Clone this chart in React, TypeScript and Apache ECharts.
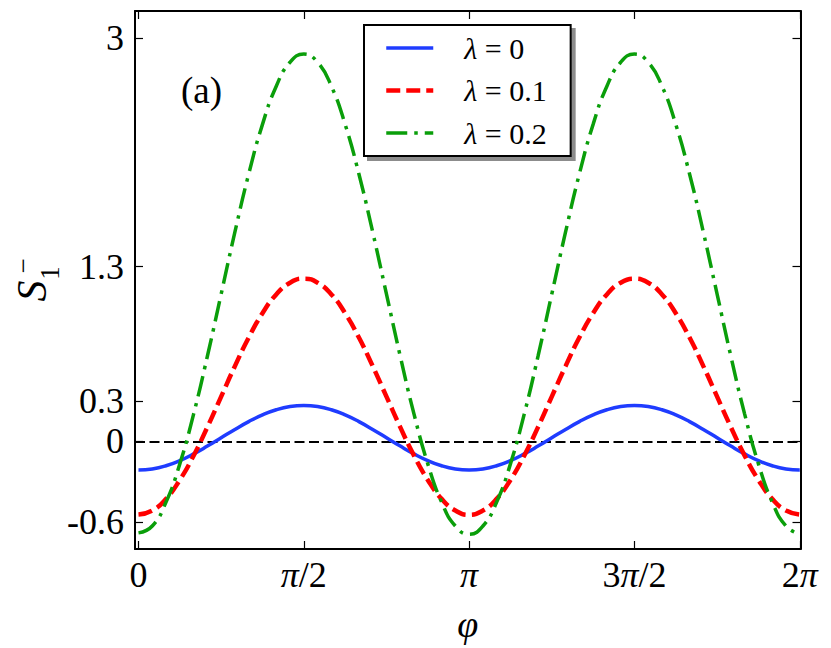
import React, { useEffect, useRef } from "react";
import * as echarts from "echarts";

// phase angle φ in degrees (0 … 2π)
const phiDeg = [
  0, 7.5, 15, 22.5, 30, 37.5, 45, 52.5, 60, 67.5, 75, 82.5, 90, 97.5, 105, 112.5,
  120, 127.5, 135, 142.5, 150, 157.5, 165, 172.5, 180, 187.5, 195, 202.5, 210,
  217.5, 225, 232.5, 240, 247.5, 255, 262.5, 270, 277.5, 285, 292.5, 300, 307.5,
  315, 322.5, 330, 337.5, 345, 352.5, 360,
];

// λ = 0
const lambda0 = [
  -0.213, -0.205, -0.181, -0.143, -0.093, -0.035, 0.027, 0.089, 0.147, 0.197, 0.235, 0.259, 0.267,
  0.259, 0.235, 0.197, 0.147, 0.089, 0.027, -0.035, -0.093, -0.143, -0.181, -0.205, -0.213,
  -0.205, -0.181, -0.143, -0.093, -0.035, 0.027, 0.089, 0.147, 0.197, 0.235, 0.259, 0.267,
  0.259, 0.235, 0.197, 0.147, 0.089, 0.027, -0.035, -0.093, -0.143, -0.181, -0.205, -0.213,
];

// λ = 0.1
const lambda01 = [
  -0.544, -0.514, -0.427, -0.287, -0.106, 0.106, 0.333, 0.56, 0.772, 0.953, 1.093, 1.18, 1.21,
  1.18, 1.093, 0.953, 0.772, 0.56, 0.333, 0.106, -0.106, -0.287, -0.427, -0.514, -0.546,
  -0.514, -0.427, -0.287, -0.106, 0.106, 0.333, 0.56, 0.772, 0.953, 1.093, 1.18, 1.21,
  1.18, 1.093, 0.953, 0.772, 0.56, 0.333, 0.106, -0.106, -0.287, -0.427, -0.514, -0.544,
];

// λ = 0.2
const lambda02 = [
  -0.68, -0.629, -0.451, -0.167, 0.203, 0.633, 1.095, 1.557, 1.988, 2.357, 2.641, 2.819, 2.88,
  2.819, 2.641, 2.357, 1.988, 1.557, 1.095, 0.633, 0.203, -0.167, -0.451, -0.629, -0.69,
  -0.629, -0.451, -0.167, 0.203, 0.633, 1.095, 1.557, 1.988, 2.357, 2.641, 2.819, 2.88,
  2.819, 2.641, 2.357, 1.988, 1.557, 1.095, 0.633, 0.203, -0.167, -0.451, -0.629, -0.69,
];

const seriesNames = ["λ = 0", "λ = 0.1", "λ = 0.2"];
const seriesColors = ["#1f3cff", "#ff0000", "#0a9e0a"];

const xTickValues = [0, 90, 180, 270, 360];
const xTickLabels = ["0", "{p|π}/2", "{p|π}", "3{p|π}/2", "2{p|π}"];
const yTickValues = [-0.6, 0, 0.3, 1.3, 3];
const yTickLabels = ["-0.6", "0", "0.3", "1.3", "3"];

const FONT = "'Liberation Serif', 'DejaVu Serif', serif";

function pairs(ys: number[]) {
  return phiDeg.map((x, i) => [x, ys[i]]);
}

export default function App() {
  const ref = useRef<HTMLDivElement>(null);

  useEffect(() => {
    if (!ref.current) return;
    const chart = echarts.init(ref.current, undefined, { renderer: "svg" });

    const tickCommon = {
      show: true,
      inside: true,
      length: 8,
      lineStyle: { color: "#000", width: 1.2 },
    };
    const axisLineCommon = {
      show: true,
      onZero: false,
      lineStyle: { color: "#000", width: 2 },
    };

    const xAxisBase = {
      type: "value",
      min: -1.9,
      max: 360.4,
      splitLine: { show: false },
      axisLine: axisLineCommon,
      axisTick: { ...tickCommon, customValues: xTickValues },
    };
    const yAxisBase = {
      type: "value",
      min: -0.8,
      max: 3.2,
      splitLine: { show: false },
      axisLine: axisLineCommon,
      axisTick: { ...tickCommon, customValues: yTickValues },
    };

    const lineStyles = [
      { color: seriesColors[0], width: 3.5, type: "solid" as any },
      { color: seriesColors[1], width: 4.5, type: [14, 6] as any },
      { color: seriesColors[2], width: 3.5, type: [21, 7, 3.5, 7] as any },
    ];

    chart.setOption({
      animation: false,
      backgroundColor: "#fff",
      grid: { left: 135, right: 30.5, top: 11, bottom: 97, containLabel: false },
      xAxis: [
        {
          ...xAxisBase,
          position: "bottom",
          name: "φ",
          nameLocation: "middle",
          nameGap: 56,
          nameTextStyle: { fontFamily: FONT, fontSize: 38, fontStyle: "italic", color: "#000" },
          axisLabel: {
            show: true,
            customValues: xTickValues,
            margin: 8,
            fontFamily: FONT,
            fontSize: 36,
            color: "#000",
            formatter: (v: number) => xTickLabels[xTickValues.indexOf(v)] ?? "",
            rich: {
              p: { fontFamily: FONT, fontSize: 36, fontStyle: "italic", color: "#000" },
            },
          },
        },
        {
          ...xAxisBase,
          position: "top",
          axisLabel: { show: false },
        },
      ],
      yAxis: [
        {
          ...yAxisBase,
          position: "left",
          axisLabel: {
            show: true,
            customValues: yTickValues,
            margin: 11,
            fontFamily: FONT,
            fontSize: 36,
            color: "#000",
            formatter: (v: number) => {
              const i = yTickValues.findIndex((t) => Math.abs(t - v) < 1e-9);
              return i >= 0 ? yTickLabels[i] : "";
            },
          },
        },
        {
          ...yAxisBase,
          position: "right",
          axisLabel: { show: false },
        },
      ],
      legend: {
        orient: "vertical",
        left: 364,
        top: 25,
        data: seriesNames.map((name, i) => ({
          name,
          lineStyle: lineStyles[i],
          itemStyle: { opacity: 0, color: "rgba(0,0,0,0)", borderWidth: 0 },
        })),
        itemStyle: { opacity: 0, color: "rgba(0,0,0,0)", borderWidth: 0 },
        backgroundColor: "#fff",
        borderColor: "#000",
        borderWidth: 2,
        borderRadius: 0,
        shadowColor: "rgba(0,0,0,0.45)",
        shadowBlur: 0,
        shadowOffsetX: 4,
        shadowOffsetY: 4,
        padding: [8, 24, 8, 20],
        itemGap: 12.5,
        itemWidth: 47,
        itemHeight: 30,
        selectedMode: false,
        textStyle: {
          fontFamily: FONT,
          fontSize: 30,
          color: "#000",
          lineHeight: 30,
          rich: {
            s: { width: 26, lineHeight: 30 },
            i: { fontFamily: FONT, fontSize: 30, fontStyle: "italic", color: "#000", lineHeight: 30 },
          },
        },
        formatter: (name: string) => {
          const val = name.split("= ")[1];
          return `{s|}{i|λ} = ${val}`;
        },
      },
      series: [
        {
          name: seriesNames[0],
          type: "line",
          data: pairs(lambda0),
          smooth: true,
          symbol: "none",
          z: 3,
          lineStyle: lineStyles[0],
          itemStyle: { color: seriesColors[0] },
          markLine: {
            silent: true,
            symbol: ["none", "none"],
            label: { show: false },
            data: [{ yAxis: 0 }],
            lineStyle: { color: "#000", width: 2, type: [10, 4.5] },
            z: 2,
          },
        },
        {
          name: seriesNames[1],
          type: "line",
          data: pairs(lambda01),
          smooth: true,
          symbol: "none",
          z: 4,
          lineStyle: lineStyles[1],
          itemStyle: { color: seriesColors[1] },
        },
        {
          name: seriesNames[2],
          type: "line",
          data: pairs(lambda02),
          smooth: true,
          symbol: "none",
          z: 5,
          lineStyle: lineStyles[2],
          itemStyle: { color: seriesColors[2] },
        },
      ],
      graphic: [
        {
          type: "text",
          left: 181,
          top: 72,
          style: { text: "(a)", fontFamily: FONT, fontSize: 37, fill: "#000" },
        },
        {
          type: "group",
          x: 32,
          y: 291,
          rotation: Math.PI / 2,
          children: [
            {
              type: "text",
              x: 0,
              y: 0,
              style: {
                text: "S",
                fontFamily: FONT,
                fontSize: 42,
                fontStyle: "italic",
                fill: "#000",
                align: "center",
                verticalAlign: "middle",
              },
            },
            {
              type: "text",
              x: 18,
              y: 18,
              style: {
                text: "1",
                fontFamily: FONT,
                fontSize: 27,
                fill: "#000",
                align: "center",
                verticalAlign: "middle",
              },
            },
            {
              type: "text",
              x: 25,
              y: -9,
              style: {
                text: "−",
                fontFamily: FONT,
                fontSize: 27,
                fill: "#000",
                align: "center",
                verticalAlign: "middle",
              },
            },
          ],
        },
      ],
    });

    return () => chart.dispose();
  }, []);

  return (
    <div
      ref={ref}
      style={{ position: "absolute", left: 0, top: 0, width: 831, height: 648 }}
    />
  );
}
